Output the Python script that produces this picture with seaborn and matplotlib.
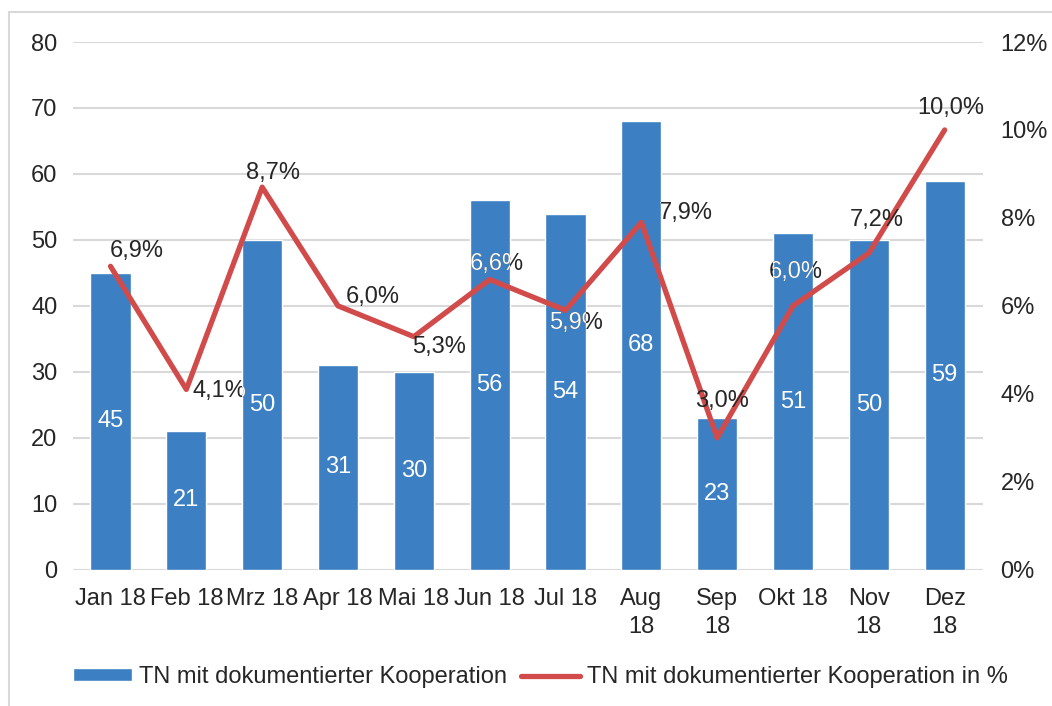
import numpy as np
import pandas as pd
import matplotlib
matplotlib.use("Agg")
import matplotlib.pyplot as plt
import seaborn as sns
from matplotlib.patches import Patch, Rectangle
from matplotlib.lines import Line2D
from matplotlib.ticker import FuncFormatter

# data
months = ["Jan 18", "Feb 18", "Mrz 18", "Apr 18", "Mai 18", "Jun 18", "Jul 18",
          "Aug\n18", "Sep\n18", "Okt 18", "Nov\n18", "Dez\n18"]
tn_count = [45, 21, 50, 31, 30, 56, 54, 68, 23, 51, 50, 59]
tn_pct = [6.9, 4.1, 8.7, 6.0, 5.3, 6.6, 5.9, 7.9, 3.0, 6.0, 7.2, 10.0]

bar_label_name = "TN mit dokumentierter Kooperation"
line_label_name = "TN mit dokumentierter Kooperation in %"

# label offsets for the % labels (pixels, dx right / dy down)
pct_offsets = [(26, -15), (33, 2), (11, -14), (35, -9), (25, 10), (7, -15),
               (11, 13), (44, -9), (5, -37), (3, -34), (8, -33), (6, -22)]

BLUE = "#3d7fc3"
RED = "#d24b4b"
GRID = "#d9d9d9"
TXT = "#262626"
FS = 17

sns.set_style("white")
plt.rcParams["font.family"] = ["Liberation Sans", "DejaVu Sans"]
plt.rcParams["font.size"] = FS

df = pd.DataFrame({"month": months, "count": tn_count, "pct": tn_pct})

fig = plt.figure(figsize=(10.52, 7.06), dpi=100)
ax = fig.add_axes([0.069, 0.193, 0.865, 0.7475])

sns.barplot(data=df, x="month", y="count", color=BLUE, saturation=1,
            width=0.53, ax=ax, zorder=2)
ax.set_ylim(0, 80)
ax.set_yticks(range(0, 81, 10))
ax.set_xlim(-0.5, 11.5)
ax.grid(axis="y", color=GRID, linewidth=1.5, zorder=0)
ax.set_axisbelow(True)
for s in ax.spines.values():
    s.set_visible(False)
ax.set_xlabel("")
ax.set_ylabel("")
ax.tick_params(axis="both", length=0, colors=TXT, labelsize=FS)
ax.tick_params(axis="y", pad=11)
ax.tick_params(axis="x", pad=13)
for t in ax.get_xticklabels():
    t.set_linespacing(1.35)

ax.bar_label(ax.containers[0], label_type="center", color="white", fontsize=FS)

ax2 = ax.twinx()
sns.lineplot(x=np.arange(len(tn_pct)), y=tn_pct, color=RED, linewidth=3.8,
             ax=ax2, zorder=3)
ax2.set_ylim(0, 12)
ax2.set_yticks(range(0, 13, 2))
ax2.yaxis.set_major_formatter(FuncFormatter(lambda v, p: f"{v:.0f}%"))
for s in ax2.spines.values():
    s.set_visible(False)
ax2.tick_params(axis="y", length=0, colors=TXT, labelsize=FS, pad=13)
ax2.set_ylabel("")

bars = list(ax.patches)
px = 72 / 100
for i, v in enumerate(tn_pct):
    lab = f"{v:.1f}%".replace(".", ",")
    dx, dy = pct_offsets[i]
    kw = dict(xytext=(dx * px, -dy * px), textcoords="offset points",
              ha="center", va="center", fontsize=FS, zorder=5)
    ax2.annotate(lab, (i, v), color=TXT, **kw)
    # white part of the label where it lies over a bar
    for b in bars:
        t = ax2.annotate(lab, (i, v), color="white", **kw)
        t.set_clip_path(b)

handles = [Patch(facecolor=BLUE, label=bar_label_name),
           Line2D([0], [0], color=RED, linewidth=3.8, label=line_label_name)]
fig.legend(handles=handles, loc="center", bbox_to_anchor=(0.514, 0.041),
           ncol=2, frameon=False, fontsize=FS, handlelength=2.5,
           handleheight=0.45, handletextpad=0.3, columnspacing=0.6,
           labelcolor=TXT)

# light chart-area frame (left and top edges visible)
fig.add_artist(Rectangle((0.0085, -0.5), 2, 0.983 + 0.5, transform=fig.transFigure,
                         fill=False, edgecolor=GRID, linewidth=1.5))

fig.savefig("out.png", dpi=100)
